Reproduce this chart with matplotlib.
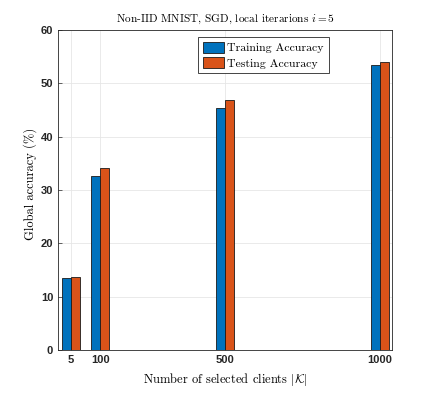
import numpy as np
from matplotlib import pyplot as plt

# data
clients = [5, 100, 500, 1000]
train_acc = [13.5, 32.6, 45.4, 53.4]
test_acc = [13.7, 34.2, 46.8, 54.0]
yticks = [0, 10, 20, 30, 40, 50, 60]


def main():
	plt.rcParams['mathtext.fontset'] = 'cm'
	serif = {'family': 'cmr10'}

	fig = plt.figure(figsize=(4.36, 3.93), dpi=100)
	ax = fig.add_axes([0.133, 0.109, 0.766, 0.815])

	x = np.array(clients, dtype=float)
	w = 29
	ax.bar(x - w / 2, train_acc, w, color='#0072BD', edgecolor='#1a1a1a',
		linewidth=0.6, label='Training Accuracy', zorder=3)
	ax.bar(x + w / 2, test_acc, w, color='#D95319', edgecolor='#1a1a1a',
		linewidth=0.6, label='Testing Accuracy', zorder=3)

	ax.set_xlim(-37, 1040)
	ax.set_ylim(0, 60)
	ax.set_xticks(clients)
	ax.set_yticks(yticks)
	ax.tick_params(direction='in', length=3, width=0.5, colors='#262626',
		labelsize=8)
	for lab in ax.get_xticklabels() + ax.get_yticklabels():
		lab.set_fontweight('bold')
		lab.set_family('Liberation Sans')
	ax.grid(True, color='#e6e6e6', linewidth=0.6, zorder=0)
	for s in ax.spines.values():
		s.set_linewidth(0.6)
		s.set_color('#262626')

	ax.set_title(r'Non-IID MNIST, SGD, local iterarions $i=5$', fontsize=8.1,
		fontdict=serif, pad=6)
	ax.set_xlabel(r'Number of selected clients $|\mathcal{K}|$', fontsize=9,
		fontdict=serif)
	ax.set_ylabel('Global accuracy (%)', fontsize=9, fontdict=serif)
	ax.yaxis.set_label_coords(-0.062, 0.52)

	leg = ax.legend(loc='upper left', bbox_to_anchor=(0.419, 0.978),
		prop={'family': 'cmr10', 'size': 8.5}, fancybox=False,
		edgecolor='#262626', framealpha=1, handlelength=1.85,
		handleheight=1.05, handletextpad=0.25, borderpad=0.4,
		labelspacing=0.35, borderaxespad=0)
	leg.get_frame().set_linewidth(0.6)

	fig.savefig('out.png', dpi=100)


if __name__ == "__main__":
	main()
